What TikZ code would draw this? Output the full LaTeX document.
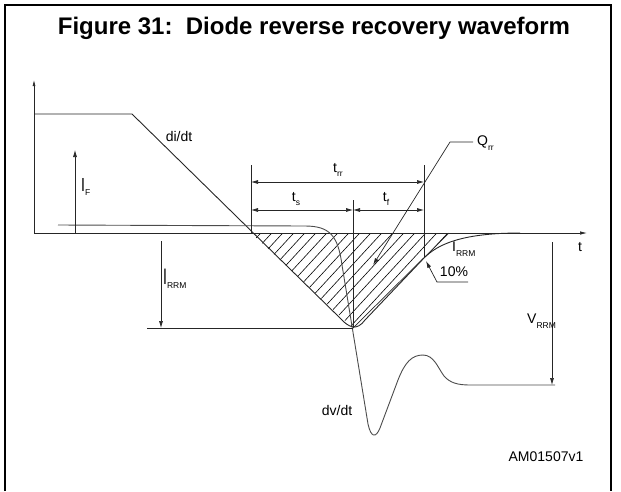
\documentclass[tikz,border=0pt]{standalone}
\usepackage{fontspec}
\setmainfont{Liberation Sans}
\usetikzlibrary{arrows.meta,positioning}
\newcommand{\lowsub}[1]{\raisebox{-0.6ex}{\fontsize{8.5}{9}\selectfont #1}}
\newcommand{\tallI}[1]{\scalebox{1}[#1]{I}}

\begin{document}
\begin{tikzpicture}[x=1pt,y=-1pt,
	wave/.style={line width=0.9pt, black!85},
	thinline/.style={line width=0.7pt, black!85},
	dim/.style={line width=0.7pt, black!85, -{Latex[length=7pt,width=4pt]}},
	dimboth/.style={line width=0.7pt, black!85, {Latex[length=7pt,width=4pt]}-{Latex[length=7pt,width=4pt]}},
	lbl/.style={font=\fontsize{14}{16}\selectfont, inner sep=0pt}]
		\useasboundingbox (0,0) rectangle (621,491);
		\draw[line width=2pt] (5,491) -- (5,5) -- (611,5) -- (611,491);
		\node[anchor=base, inner sep=0pt, font=\fontsize{24}{28}\bfseries] (title) at (314,34) {Figure 31:\ \ Diode reverse recovery waveform};

		\coordinate (origin) at (34,233);
		\coordinate (ytop) at (34,80);
		\coordinate (xend) at (587,233);
		\coordinate (cross) at (251,233);
		\coordinate (irrm) at (353,328);
		\coordinate (tenpct) at (424,258);
		\coordinate (hatchend) at (449,233);

		\begin{scope}
			\clip (cross) -- (irrm) -- (hatchend) -- cycle;
			\foreach \k in {0,...,30}
				\draw[line width=0.6pt] (140+11*\k,340) -- ++(120,-130);
		\end{scope}
		\draw[thinline] (irrm) -- (hatchend);

		\draw[thinline, -{Latex[length=6pt,width=3pt]}] (origin) -- (ytop);
		\draw[thinline, -{Latex[length=7pt,width=3.5pt]}] (origin) -- (xend);
		\node[lbl] (t) at (580,247) {t};

		\draw[wave] (34,114) -- (132,114) -- (340,318) .. controls (349,328) and (357,331) .. (365,320) -- (tenpct) .. controls (437,245) and (460,233) .. (520,233);
		\draw[wave, black!70] (58,225) -- (305,226) .. controls (330,226) and (338,236) .. (342,265) -- (368,424) .. controls (371,438) and (376,438) .. (380,428) -- (398,380) .. controls (405,362) and (412,355) .. (423,355) .. controls (434,355) and (438,368) .. (444,376) .. controls (450,383) and (458,385) .. (470,385) -- (555,385);
		\draw[thinline] (147,328) -- (irrm);

		\coordinate (ifbot) at (75,233);
		\coordinate (iftop) at (75,150);
		\draw[dim] (ifbot) -- (iftop);
		\node[lbl, anchor=west] (iflbl) at (81,187) {\tallI{1.35}\lowsub{F}};

		\coordinate (irrmtop) at (161,241);
		\coordinate (irrmbot) at (161,328);
		\draw[dim] (irrmtop) -- (irrmbot);
		\node[lbl, anchor=west] (irrmlbl) at (163,279) {\tallI{1.6}\lowsub{RRM}};

		\coordinate (vtop) at (552,242);
		\coordinate (vbot) at (552,385);
		\draw[dim] (vtop) -- (vbot);
		\node[lbl, anchor=west] (vlbl) at (527,321) {V\lowsub{RRM}};

		\coordinate (trrl) at (251,165);
		\coordinate (trrr) at (424,165);
		\coordinate (tsm) at (353,200);
		\draw[thinline] (trrl) -- (cross);
		\draw[thinline] (trrr) -- (tenpct);
		\draw[thinline] (tsm) -- (irrm);
		\draw[dimboth] (251,182) -- (424,182);
		\draw[dimboth] (251,210) -- (353,210);
		\draw[dimboth] (353,210) -- (424,210);
		\node[lbl] (trr) at (338,170) {t\lowsub{rr}};
		\node[lbl] (ts) at (296,199) {t\lowsub{s}};
		\node[lbl] (tf) at (386,199) {t\lowsub{f}};

		\coordinate (qbend) at (450,142);
		\coordinate (qtip) at (373,265);
		\node[lbl, anchor=west] (qrr) at (477,143) {Q\lowsub{rr}};
		\draw[thinline, -{Latex[length=7pt,width=4pt]}] (473,142) -- (qbend) -- (qtip);

		\coordinate (tenbend) at (437,282);
		\coordinate (tentip) at (426,261);
		\node[lbl] (ten) at (454,272) {10\%};
		\draw[thinline, -{Latex[length=7pt,width=4pt]}] (468,282) -- (tenbend) -- (tentip);
		\node[lbl, anchor=west] (irrmr) at (452,249) {I\lowsub{RRM}};

		\node[lbl] (didt) at (179,136) {di/dt};
		\node[lbl] (dvdt) at (337,410) {dv/dt};
		\node[lbl] (code) at (546,457) {AM01507v1};
\end{tikzpicture}
\end{document}
